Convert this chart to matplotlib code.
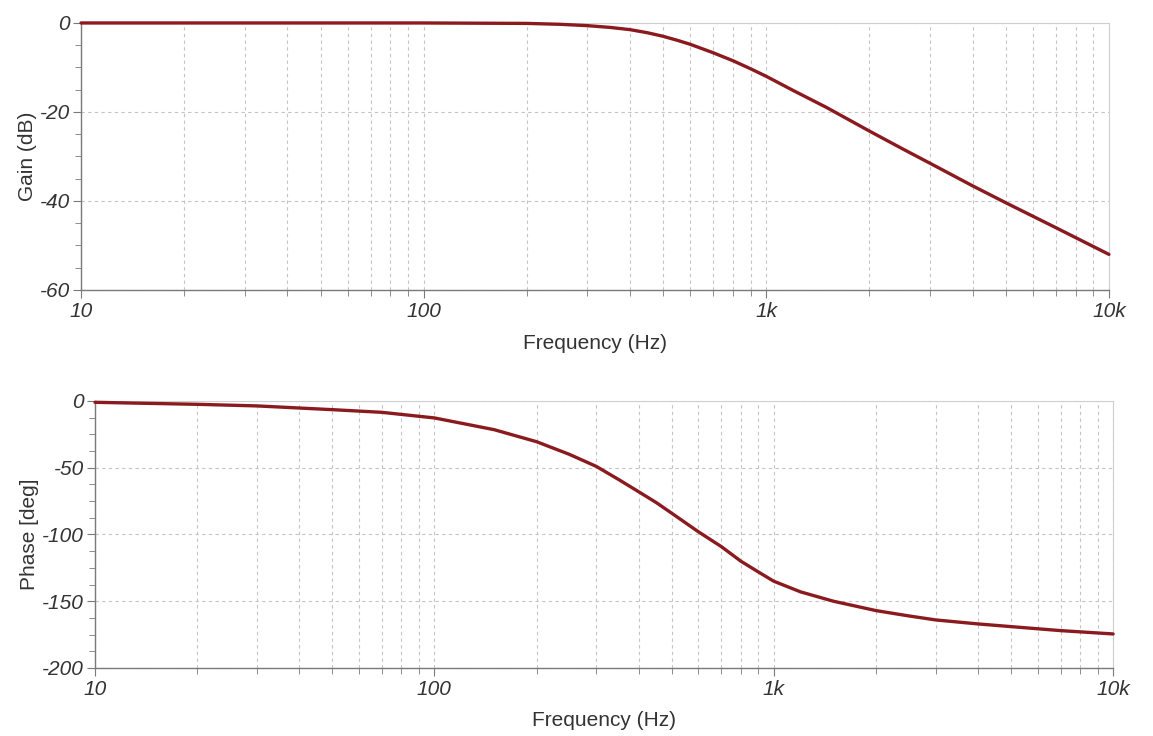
import numpy as np
import matplotlib.pyplot as plt
from matplotlib.ticker import LogLocator, FixedLocator, NullFormatter, FuncFormatter

plt.rcParams["axes.unicode_minus"] = False

# values
freq_gain = [10, 20, 50, 100, 200, 250, 300, 350, 400, 450, 500, 550, 600,
             700, 800, 900, 1000, 1200, 1500, 2000, 2500, 3000, 4000, 5000,
             7000, 10000]
gain_db = [0, 0, 0, 0, -0.1, -0.3, -0.6, -1.0, -1.5, -2.2, -3.0, -3.9, -4.8,
           -6.7, -8.5, -10.3, -12.0, -15.2, -19.0, -24.3, -28.3, -31.5, -36.6,
           -40.4, -46.0, -52.0]

freq_phase = [10, 20, 30, 50, 70, 100, 150, 200, 250, 300, 350, 400, 450,
              500, 600, 700, 800, 900, 1000, 1200, 1500, 2000, 2500, 3000,
              4000, 5000, 7000, 10000]
phase_deg = [-1, -2.5, -3.7, -6.5, -8.5, -12.7, -21.5, -30.5, -40, -49, -59,
             -68, -76, -84, -98, -109, -120, -128, -135, -143, -150, -157,
             -161, -164, -167, -169, -172, -174.5]

xticks = [10, 100, 1000, 10000]
xlabels = ["10", "100", "1k", "10k"]

line_col = "#8b1a1f"
grid_col = "#c4c4c4"
font = "Liberation Sans"

fig = plt.figure(figsize=(11.53, 7.36), dpi=100)
ax1 = fig.add_axes([0.0703, 0.606, 0.8915, 0.3628])
ax2 = fig.add_axes([0.0824, 0.0924, 0.883, 0.3628])


def xfmt(v, pos):
    v = int(round(v))
    return xlabels[xticks.index(v)] if v in xticks else ""


def style_axis(ax, ymin, ymax, ystep, yminor):
    ax.set_xscale("log")
    ax.set_xlim(10, 10000)
    ax.set_ylim(ymin, ymax)
    ax.xaxis.set_major_locator(FixedLocator(xticks))
    ax.xaxis.set_major_formatter(FuncFormatter(xfmt))
    ax.xaxis.set_minor_locator(LogLocator(base=10, subs=np.arange(2, 10)))
    ax.xaxis.set_minor_formatter(NullFormatter())
    ax.yaxis.set_major_locator(FixedLocator(np.arange(ymin, ymax + 1, ystep)))
    ax.yaxis.set_minor_locator(FixedLocator(np.arange(ymin, ymax + 0.1, yminor)))
    ax.grid(True, which="major", axis="both", color=grid_col, ls=(0, (3, 3)), lw=0.8)
    ax.grid(True, which="minor", axis="x", color=grid_col, ls=(0, (3, 3)), lw=0.8)
    for s in ["left", "bottom"]:
        ax.spines[s].set_color("#7a7a7a")
        ax.spines[s].set_linewidth(1.0)
    for s in ["top", "right"]:
        ax.spines[s].set_color("#cfcfcf")
        ax.spines[s].set_linewidth(0.8)
    ax.tick_params(which="major", direction="out", length=6, color="#7a7a7a",
                   labelsize=15, labelcolor="#333333")
    ax.tick_params(which="minor", direction="out", length=4, color="#7a7a7a")
    ax.tick_params(axis="y", which="major", pad=2)
    ax.tick_params(axis="x", which="major", pad=3)


ax1.plot(freq_gain, gain_db, color=line_col, lw=2.4, clip_on=False,
         solid_capstyle="round", zorder=5)
style_axis(ax1, -60, 0, 20, 5)
ax1.set_ylabel("Gain (dB)", fontsize=15, family=font, color="#333333", labelpad=2)
ax1.set_xlabel("Frequency (Hz)", fontsize=15, family=font, color="#333333", labelpad=9)

ax2.plot(freq_phase, phase_deg, color=line_col, lw=2.4, clip_on=False,
         solid_capstyle="round", zorder=5)
style_axis(ax2, -200, 0, 50, 12.5)
ax2.set_ylabel("Phase [deg]", fontsize=15, family=font, color="#333333", labelpad=2)
ax2.set_xlabel("Frequency (Hz)", fontsize=15, family=font, color="#333333", labelpad=8)

for ax in (ax1, ax2):
    for lab in ax.get_xticklabels() + ax.get_yticklabels():
        lab.set_fontstyle("italic")
        lab.set_family(font)

fig.savefig("out.png", dpi=100, facecolor="white")
